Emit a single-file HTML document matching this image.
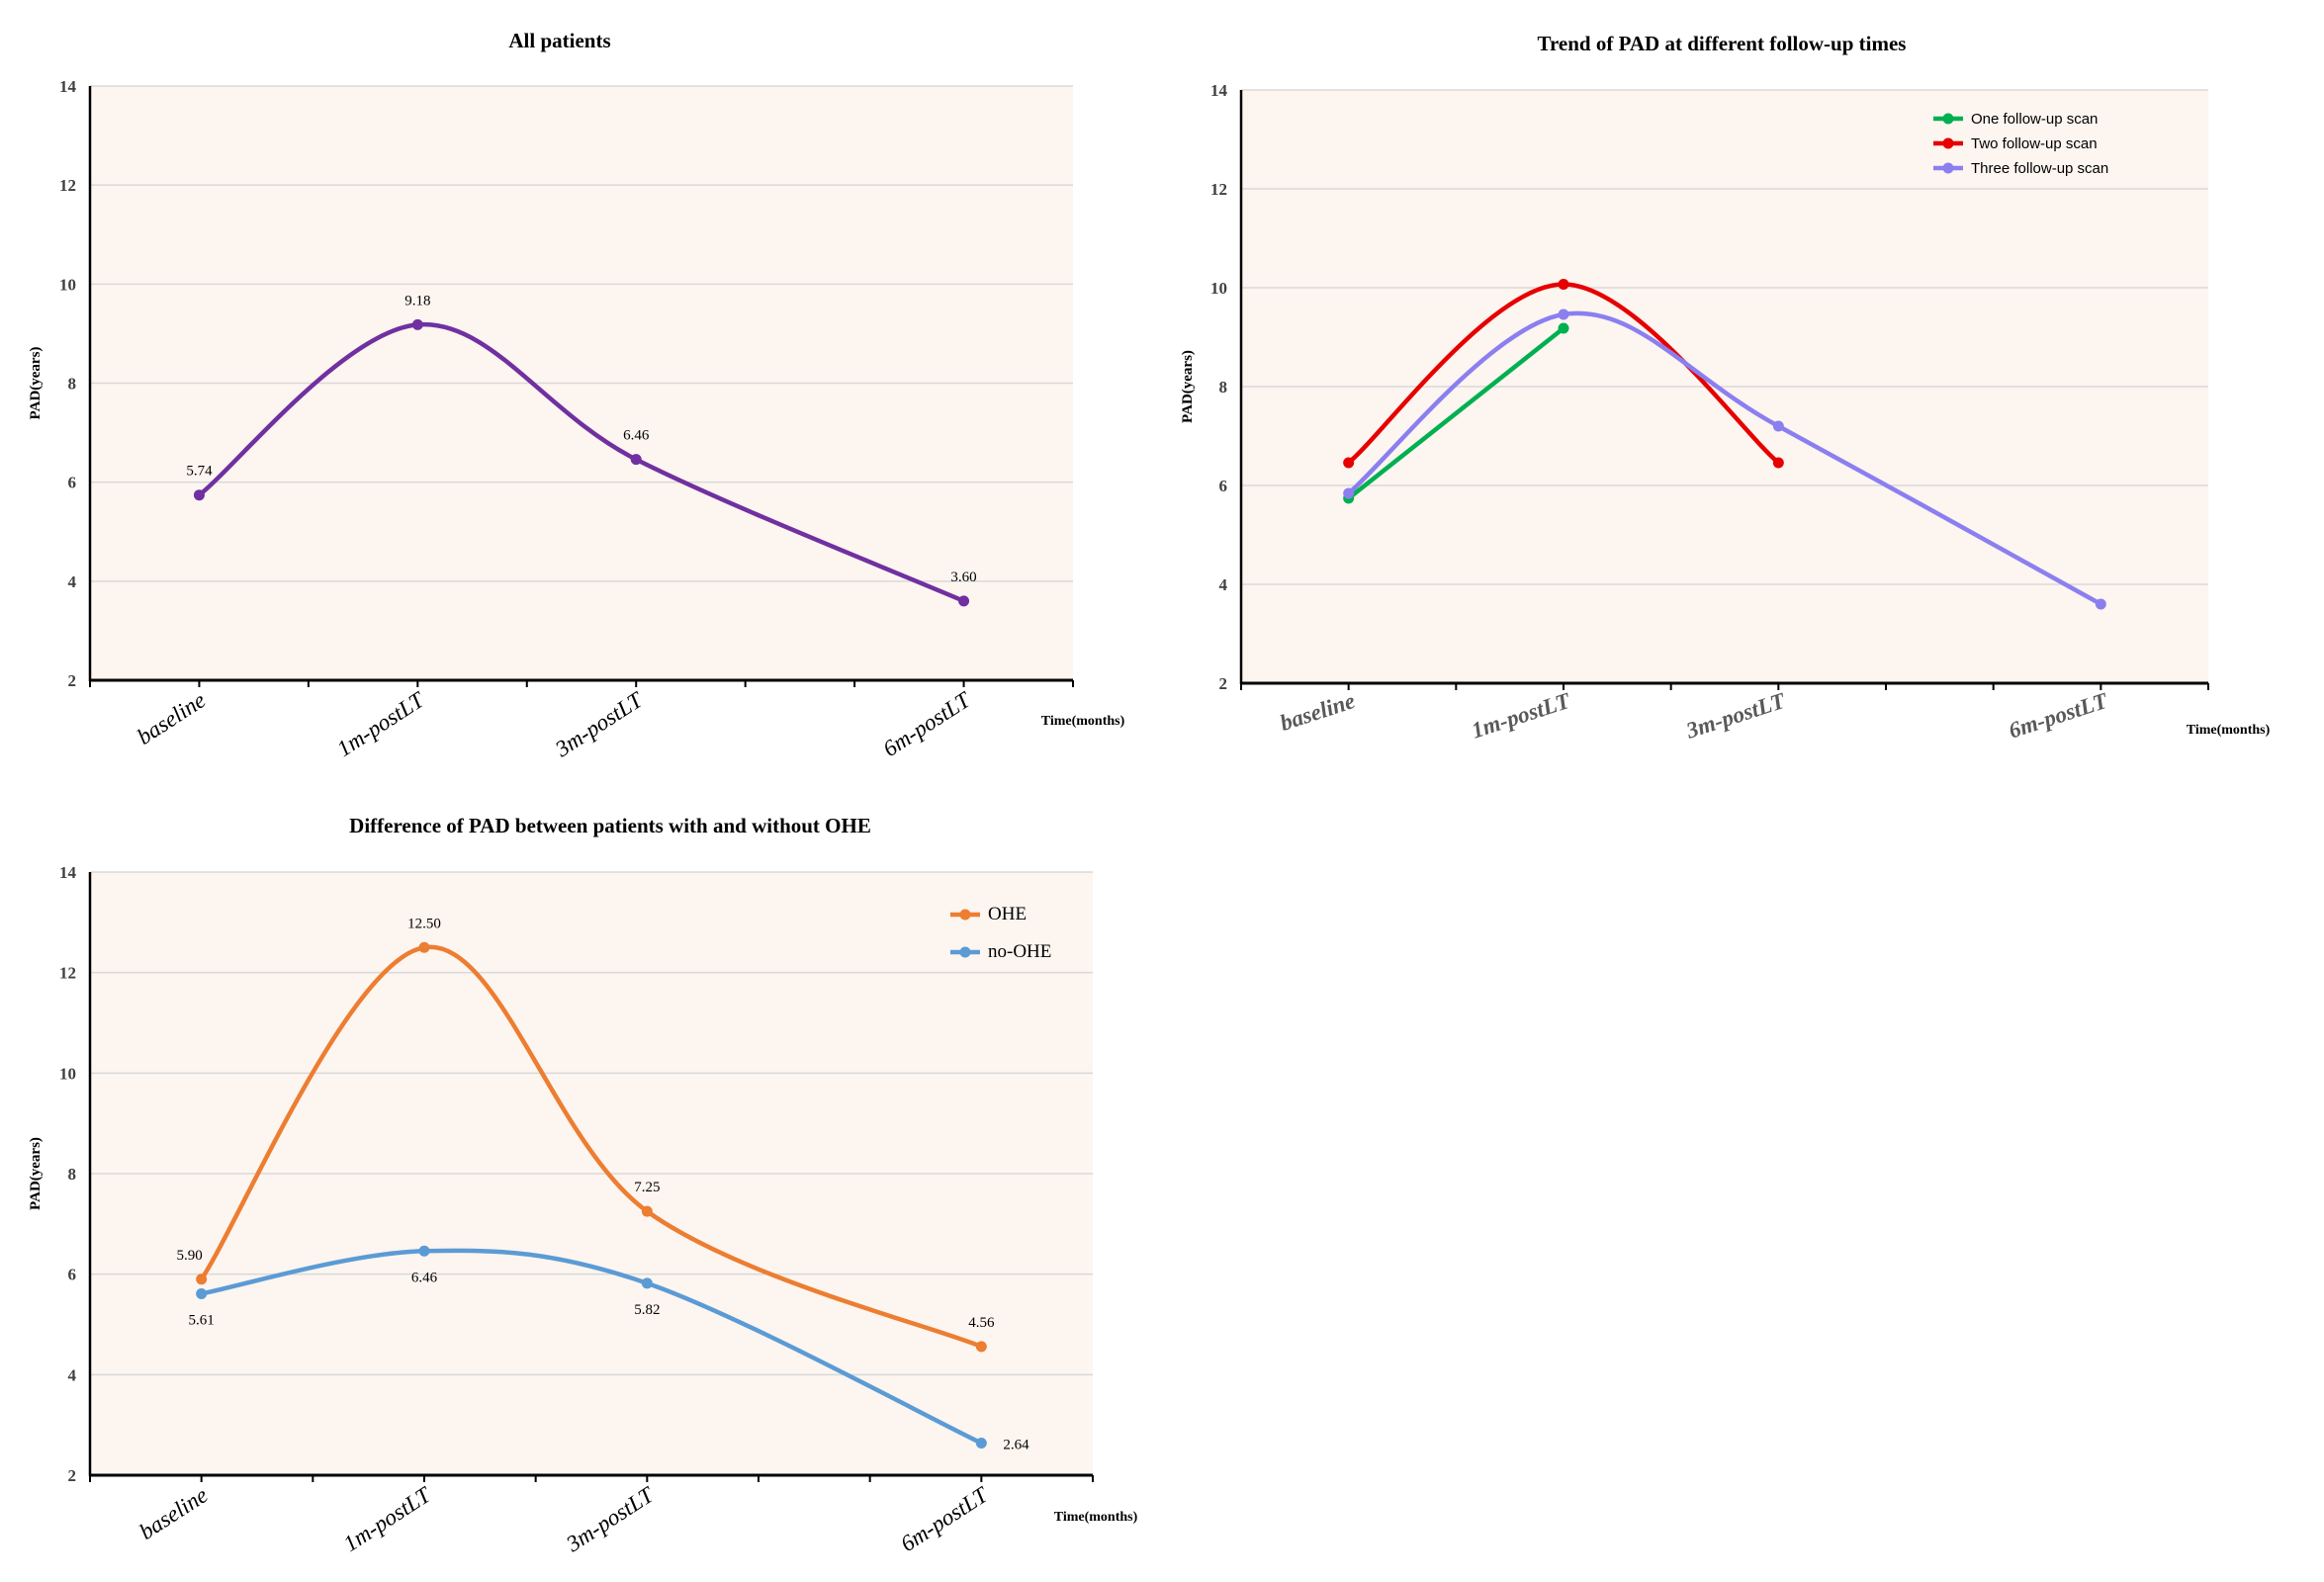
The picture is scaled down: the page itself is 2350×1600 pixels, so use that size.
<!DOCTYPE html>
<html><head><meta charset="utf-8">
<style>
html,body{margin:0;padding:0;background:#fff;}
svg{display:block;}
</style></head>
<body>
<svg id="root" width="2350" height="1600" viewBox="0 0 2350 1600" xmlns="http://www.w3.org/2000/svg" font-family="Liberation Serif, serif"></svg>
<script>
const NS = "http://www.w3.org/2000/svg";
const categories = ["baseline", "1m-postLT", "3m-postLT", "6m-postLT"];
const categorySlots = [1, 3, 5, 8];
const yTicks = [2, 4, 6, 8, 10, 12, 14];
const allPatients = [5.74, 9.18, 6.46, 3.60];
const oneScan = [5.74, 9.18];
const twoScan = [6.46, 10.07, 6.46];
const threeScan = [5.84, 9.46, 7.20, 3.60];
const oheValues = [5.90, 12.50, 7.25, 4.56];
const noOheValues = [5.61, 6.46, 5.82, 2.64];
const oheLabels = ["5.90", "12.50", "7.25", "4.56"];
const noOheLabels = ["5.61", "6.46", "5.82", "2.64"];
const allLabels = ["5.74", "9.18", "6.46", "3.60"];

const root = document.getElementById('root');
function mk(tag, attrs, parent, txt) {
  const e = document.createElementNS(NS, tag);
  for (const k in attrs) e.setAttribute(k, attrs[k]);
  if (txt !== undefined) e.textContent = txt;
  (parent || root).appendChild(e);
  return e;
}
function smoothPath(pts) {
  if (pts.length < 3) return "M" + pts.map(p => p[0] + "," + p[1]).join(" L");
  let d = "M" + pts[0][0] + "," + pts[0][1];
  const t = 0.5 / 3 * 2;
  for (let i = 0; i < pts.length - 1; i++) {
    const p0 = pts[i - 1] || pts[i], p1 = pts[i], p2 = pts[i + 1], p3 = pts[i + 2] || p2;
    const c1x = p1[0] + (p2[0] - p0[0]) * t / 2, c1y = p1[1] + (p2[1] - p0[1]) * t / 2;
    const c2x = p2[0] - (p3[0] - p1[0]) * t / 2, c2y = p2[1] - (p3[1] - p1[1]) * t / 2;
    d += ` C${c1x},${c1y} ${c2x},${c2y} ${p2[0]},${p2[1]}`;
  }
  return d;
}
function makeAxes(cfg) {
  const g = mk('g', {});
  
  
  const x = s => cfg.l + (cfg.r - cfg.l) * s / 9;
  const y = v => cfg.b - (cfg.b - cfg.t) * (v - 2) / 12;
  const bg = mk('rect', {x: cfg.l, y: cfg.t, width: cfg.r - cfg.l, height: cfg.b - cfg.t, fill: '#fcf5f0'}, g);
  
  
  yTicks.forEach(v => {
    if (v > 2) {
      const gl = mk('line', {x1: cfg.l, x2: cfg.r, y1: y(v), y2: y(v), stroke: '#d9d9d9', 'stroke-width': 1.5}, g);
      
      
    }
    const tl = mk('text', {x: cfg.l - 14, y: y(v) + 6, 'text-anchor': 'end', 'font-size': 17, 'font-weight': 'bold', fill: '#404040'}, g, String(v));
    
    
  });
  const ya = mk('line', {x1: cfg.l, x2: cfg.l, y1: cfg.t, y2: cfg.b + 1, stroke: '#000', 'stroke-width': 2.5}, g);
  
  
  const xa = mk('line', {x1: cfg.l - 1, x2: cfg.r, y1: cfg.b, y2: cfg.b, stroke: '#000', 'stroke-width': 3}, g);
  
  
  for (let i = 0; i <= 9; i++) {
    const tk = mk('line', {x1: x(i), x2: x(i), y1: cfg.b, y2: cfg.b + 7, stroke: '#000', 'stroke-width': 2}, g);
    
    
  }
  categories.forEach((c, i) => {
    const cx = x(categorySlots[i]) + 8, cy = cfg.b + 24;
    const tl = mk('text', {x: cx, y: cy, 'text-anchor': 'end', 'font-size': cfg.catSize, 'font-style': 'italic', 'font-weight': cfg.catBold ? 'bold' : 'normal', fill: cfg.catColor, transform: `rotate(${cfg.catRot} ${cx} ${cy})`}, g, c);
    
    
  });
  const tt = mk('text', {x: cfg.titleX, y: cfg.titleY, 'text-anchor': 'middle', 'font-size': 21, 'font-weight': 'bold', fill: '#000'}, g, cfg.title);
  
  
  const yt = mk('text', {x: cfg.yTitleX, y: (cfg.t + cfg.b) / 2, 'text-anchor': 'middle', 'font-size': 15, 'font-weight': 'bold', fill: '#000', transform: `rotate(-90 ${cfg.yTitleX} ${(cfg.t + cfg.b) / 2})`}, g, 'PAD(years)');
  
  
  const xt = mk('text', {x: cfg.xTitleX, y: cfg.xTitleY, 'text-anchor': 'middle', 'font-size': 14, 'font-weight': 'bold', fill: '#000'}, g, 'Time(months)');
  
  
  return {g, x, y};
}
function series(ax, vals, color, name, labels, labelPos) {
  const pts = vals.map((v, i) => [ax.x(categorySlots[i]), ax.y(v)]);
  const p = mk('path', {d: smoothPath(pts), fill: 'none', stroke: color, 'stroke-width': 4.5, 'stroke-linecap': 'round'}, ax.g);
  
  
  pts.forEach((pt, i) => {
    const c = mk('circle', {cx: pt[0], cy: pt[1], r: 5.5, fill: color}, ax.g);
    
    
    if (labels) {
      const pos = labelPos ? labelPos[i] : 'above';
      let lx = pt[0], ly = pt[1] - 20, anchor = 'middle';
      if (pos === 'below') ly = pt[1] + 31;
      if (pos === 'right') { lx = pt[0] + 22; ly = pt[1] + 6; anchor = 'start'; }
      if (pos === 'aboveleft') { lx = pt[0] - 12; }
      const t = mk('text', {x: lx, y: ly, 'text-anchor': anchor, 'font-size': 15, fill: '#000'}, ax.g, labels[i]);
      
      
    }
  });
}
function legend(ax, items, x0, y0, dy, font, size) {
  items.forEach((it, i) => {
    const yy = y0 + i * dy;
    const lg = mk('g', {}, ax.g);
    
    
    mk('line', {x1: x0, x2: x0 + 30, y1: yy, y2: yy, stroke: it[1], 'stroke-width': 4.5}, lg);
    mk('circle', {cx: x0 + 15, cy: yy, r: 5.5, fill: it[1]}, lg);
    const t = mk('text', {x: x0 + 38, y: yy + 5, 'font-size': size, fill: '#000'}, lg, it[0]);
    t.style.fontFamily = font;
  });
}

const a1 = makeAxes({name: 'chart-all-patients', l: 91, r: 1085, t: 87, b: 688, title: 'All patients', titleX: 566, titleY: 48, yTitleX: 40, xTitleX: 1095, xTitleY: 733, catSize: 23, catBold: false, catColor: '#000', catRot: -33});
series(a1, allPatients, '#7030a0', 'all-patients', allLabels);

const a2 = makeAxes({name: 'chart-follow-up', l: 1255, r: 2233, t: 91, b: 691, title: 'Trend of PAD at different follow-up times', titleX: 1741, titleY: 51, yTitleX: 1205, xTitleX: 2253, xTitleY: 742, catSize: 23, catBold: true, catColor: '#595959', catRot: -18});
series(a2, oneScan, '#00b050', 'one-scan');
series(a2, twoScan, '#e60000', 'two-scan');
series(a2, threeScan, '#8b7ff0', 'three-scan');
legend(a2, [['One follow-up scan', '#00b050'], ['Two follow-up scan', '#e60000'], ['Three follow-up scan', '#8b7ff0']], 1955, 120, 25, '"Liberation Sans", sans-serif', 15);

const a3 = makeAxes({name: 'chart-ohe', l: 91, r: 1105, t: 882, b: 1492, title: 'Difference of PAD between patients with and without OHE', titleX: 617, titleY: 842, yTitleX: 40, xTitleX: 1108, xTitleY: 1538, catSize: 23, catBold: false, catColor: '#000', catRot: -33});
series(a3, oheValues, '#ed7d31', 'ohe', oheLabels, ['aboveleft', 'above', 'above', 'above']);
series(a3, noOheValues, '#5b9bd5', 'no-ohe', noOheLabels, ['below', 'below', 'below', 'right']);
legend(a3, [['OHE', '#ed7d31'], ['no-OHE', '#5b9bd5']], 961, 925, 38, '"Liberation Serif", serif', 19);
</script>
</body></html>
